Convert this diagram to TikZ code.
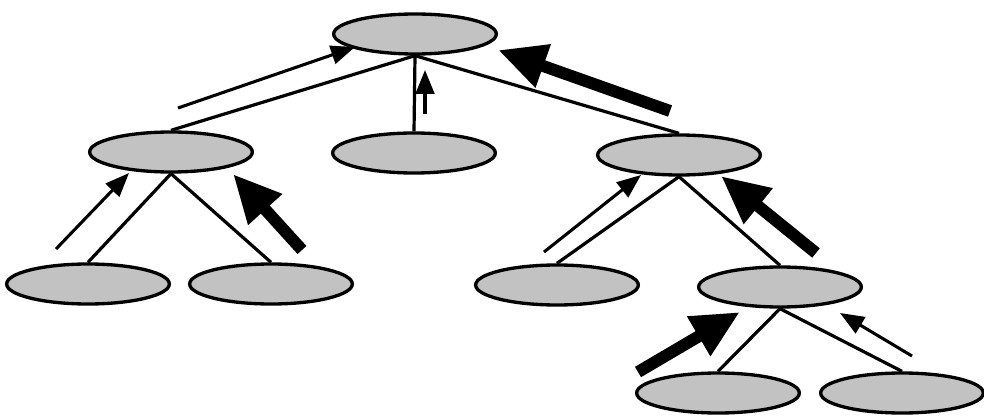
\documentclass[tikz,border=0pt]{standalone}
\usetikzlibrary{shapes.geometric,arrows.meta}
\begin{document}
\begin{tikzpicture}[x=0.75pt,y=-0.75pt,
  leaf/.style={ellipse,draw,line width=2.5pt,fill=black!24,
    minimum width=122pt,minimum height=30pt,inner sep=0pt},
  branch/.style={line width=2.4pt},
  thinflow/.style={line width=2.3pt,-{Triangle[length=18pt,width=14pt]}},
  thickflow/.style={line width=9pt,-{Triangle[length=36pt,width=32pt]}}]
\useasboundingbox (0,0) rectangle (984,417);

% tree nodes
\node[leaf] (root) at (415,34) {};
\node[leaf] (lm)   at (171,152) {};
\node[leaf] (mid)  at (414,153) {};
\node[leaf] (rm)   at (679,155) {};
\node[leaf] (lll)  at (88,284) {};
\node[leaf] (llr)  at (271,284) {};
\node[leaf] (rl)   at (557,285) {};
\node[leaf] (rr)   at (780,287) {};
\node[leaf] (bl)   at (718,393) {};
\node[leaf] (br)   at (902,393) {};

% branches
\draw[branch] (root.south) -- (lm.north);
\draw[branch] (root.south) -- (mid.north);
\draw[branch] (root.south) -- (rm.north);
\draw[branch] (lm.south) -- (lll.north);
\draw[branch] (lm.south) -- (llr.north);
\draw[branch] (rm.south) -- (rl.north);
\draw[branch] (rm.south) -- (rr.north);
\draw[branch] (rr.south) -- (bl.north);
\draw[branch] (rr.south) -- (br.north);

% flow arrow end points
\coordinate (a1s) at (178,108); \coordinate (a1e) at (355,47);
\coordinate (a2s) at (425,114); \coordinate (a2e) at (425,70);
\coordinate (a3s) at (670,111); \coordinate (a3e) at (498,50);
\coordinate (a4s) at (56,249);  \coordinate (a4e) at (129,173);
\coordinate (a5s) at (302,250); \coordinate (a5e) at (233,174);
\coordinate (a6s) at (544,252); \coordinate (a6e) at (641,175);
\coordinate (a7s) at (816,253); \coordinate (a7e) at (721,176);
\coordinate (a8s) at (638,372); \coordinate (a8e) at (740,312);
\coordinate (a9s) at (912,356); \coordinate (a9e) at (840,313);

% flow arrows
\draw[thinflow]  (a1s) -- (a1e);
\draw[thinflow]  (a2s) -- (a2e);
\draw[thickflow] (a3s) -- (a3e);
\draw[thinflow]  (a4s) -- (a4e);
\draw[thickflow] (a5s) -- (a5e);
\draw[thinflow]  (a6s) -- (a6e);
\draw[thickflow] (a7s) -- (a7e);
\draw[thickflow] (a8s) -- (a8e);
\draw[thinflow]  (a9s) -- (a9e);
\end{tikzpicture}
\end{document}
